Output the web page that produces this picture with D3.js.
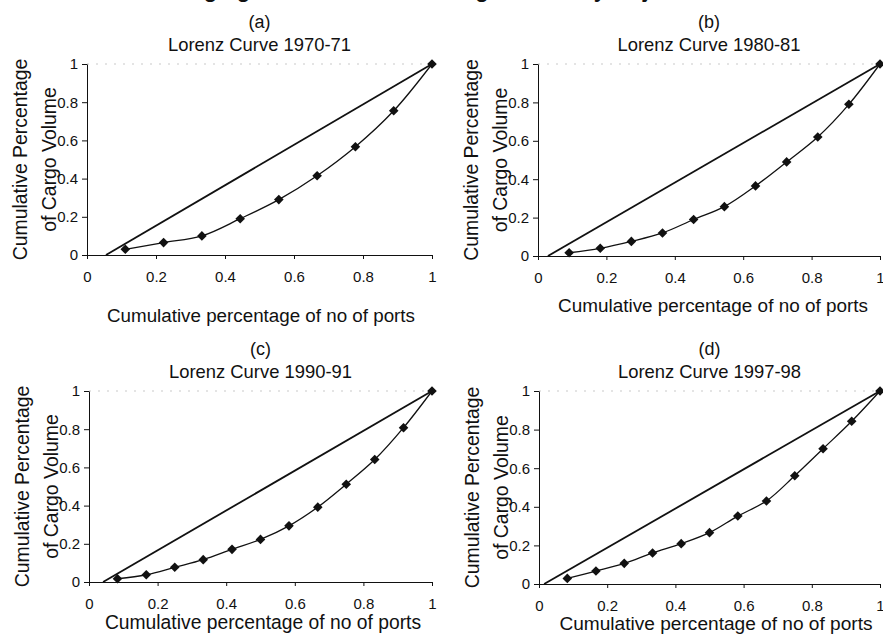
<!DOCTYPE html>
<html>
<head>
<meta charset="utf-8">
<script src="https://cdn.jsdelivr.net/npm/d3@7"></script>
<style>
  body { margin: 0; background: #fff; }
  svg { display: block; font-family: "Liberation Sans", Arial, Helvetica, sans-serif; }
  .axis path, .axis line { stroke: #111; stroke-width: 1; }
  .axis text { fill: #111; font-size: 15px; }
</style>
</head>
<body>
<div id="chart"></div>
<script>
// ---------------------------------------------------------------------------
// Data
// ---------------------------------------------------------------------------

const years = ["1970-71", "1980-81", "1990-91", "1997-98"];
const panelLetters = ["(a)", "(b)", "(c)", "(d)"];

const ports7071 = [0.111, 0.222, 0.333, 0.444, 0.556, 0.667, 0.778, 0.889, 1];
const cargo7071 = [0.03, 0.065, 0.10, 0.19, 0.29, 0.415, 0.567, 0.755, 1];

const ports8081 = [0.091, 0.182, 0.273, 0.364, 0.455, 0.545, 0.636, 0.727, 0.818, 0.909, 1];
const cargo8081 = [0.017, 0.04, 0.076, 0.12, 0.19, 0.257, 0.365, 0.49, 0.62, 0.79, 1];

const ports9091 = [0.083, 0.167, 0.25, 0.333, 0.417, 0.5, 0.583, 0.667, 0.75, 0.833, 0.917, 1];
const cargo9091 = [0.017, 0.038, 0.077, 0.117, 0.171, 0.223, 0.294, 0.392, 0.512, 0.641, 0.808, 1];

const ports9798 = [0.083, 0.167, 0.25, 0.333, 0.417, 0.5, 0.583, 0.667, 0.75, 0.833, 0.917, 1];
const cargo9798 = [0.029, 0.067, 0.107, 0.161, 0.209, 0.266, 0.352, 0.43, 0.561, 0.701, 0.843, 1];

// where the line of equality meets the x axis in each panel
const equalityStart = [0.055, 0.029, 0.041, 0.015];

const tickValues = [0, 0.2, 0.4, 0.6, 0.8, 1];
const tickLabels = ["0", "0.2", "0.4", "0.6", "0.8", "1"];

const xTitle = "Cumulative percentage of no of ports";
const yTitle = ["Cumulative Percentage", "of Cargo Volume"];

const portSeries = [ports7071, ports8081, ports9091, ports9798];
const cargoSeries = [cargo7071, cargo8081, cargo9091, cargo9798];

// ---------------------------------------------------------------------------
// Layout of the four plots (pixel boxes of each plot area)
// ---------------------------------------------------------------------------

const layout = [
  {x0: 87,  x1: 432, y0: 64,  y1: 255, xTitleX: 261, xTitleY: 315, xTitleSize: 18.8},
  {x0: 538, x1: 880, y0: 64,  y1: 256, xTitleX: 713, xTitleY: 305, xTitleSize: 18.9},
  {x0: 89,  x1: 432, y0: 391, y1: 582, xTitleX: 263, xTitleY: 622, xTitleSize: 19.3},
  {x0: 539, x1: 880, y0: 391, y1: 584, xTitleX: 716, xTitleY: 623, xTitleSize: 19.1}
];

const width = 883, height = 637;

const svg = d3.select("#chart")
  .append("svg")
  .attr("width", width)
  .attr("height", height);

svg.append("rect")
  .attr("width", width)
  .attr("height", height)
  .attr("fill", "#fff");

// figure title, cut off by the top edge of the page
svg.append("text")
  .attr("x", 441)
  .attr("y", -3)
  .attr("text-anchor", "middle")
  .attr("font-size", 22)
  .attr("font-weight", "bold")
  .attr("fill", "#111")
  .text("Changing Concentration of Cargo Traffic by Major Ports");

const diamond = d3.symbol().type(d3.symbolSquare).size(46);

years.forEach(function(year, i) {
  const box = layout[i];
  const cx = (box.x0 + box.x1) / 2;

  const xScale = d3.scaleLinear().domain([0, 1]).range([box.x0, box.x1]);
  const yScale = d3.scaleLinear().domain([0, 1]).range([box.y1, box.y0]);

  const g = svg.append("g");

  // faint dotted frame line along the top of the plot area
  g.append("line")
    .attr("x1", xScale(0)).attr("x2", xScale(1))
    .attr("y1", yScale(1)).attr("y2", yScale(1))
    .attr("stroke", "#bbb")
    .attr("stroke-width", 0.8)
    .attr("stroke-dasharray", "2,7");

  // axes
  g.append("g")
    .attr("class", "axis")
    .attr("transform", "translate(0," + yScale(0) + ")")
    .call(d3.axisBottom(xScale)
      .tickValues(tickValues)
      .tickFormat(function(d, k) { return tickLabels[k]; })
      .tickSizeInner(4)
      .tickSizeOuter(0)
      .tickPadding(12));

  g.append("g")
    .attr("class", "axis")
    .attr("transform", "translate(" + xScale(0) + ",0)")
    .call(d3.axisLeft(yScale)
      .tickValues(tickValues)
      .tickFormat(function(d, k) { return tickLabels[k]; })
      .tickSizeInner(5)
      .tickSizeOuter(0)
      .tickPadding(4));

  // line of equality
  g.append("line")
    .attr("x1", xScale(equalityStart[i])).attr("y1", yScale(0))
    .attr("x2", xScale(1)).attr("y2", yScale(1))
    .attr("stroke", "#111")
    .attr("stroke-width", 1.8);

  // Lorenz curve
  const points = portSeries[i].map(function(p, k) { return [p, cargoSeries[i][k]]; });

  const line = d3.line()
    .x(function(d) { return xScale(d[0]); })
    .y(function(d) { return yScale(d[1]); })
    .curve(d3.curveCatmullRom.alpha(0.5));

  g.append("path")
    .datum(points)
    .attr("fill", "none")
    .attr("stroke", "#111")
    .attr("stroke-width", 1.3)
    .attr("d", line);

  g.selectAll(".marker")
    .data(points)
    .enter()
    .append("path")
    .attr("class", "marker")
    .attr("d", diamond)
    .attr("fill", "#111")
    .attr("transform", function(d) {
      return "translate(" + xScale(d[0]) + "," + yScale(d[1]) + ") rotate(45)";
    });

  // titles
  g.append("text")
    .attr("x", cx)
    .attr("y", box.y0 - 42)
    .attr("dy", "0.35em")
    .attr("text-anchor", "middle")
    .attr("font-size", 18)
    .attr("fill", "#111")
    .text(panelLetters[i]);

  g.append("text")
    .attr("x", cx)
    .attr("y", box.y0 - 19)
    .attr("dy", "0.35em")
    .attr("text-anchor", "middle")
    .attr("font-size", 18.4)
    .attr("fill", "#111")
    .text("Lorenz Curve " + year);

  g.append("text")
    .attr("x", box.xTitleX)
    .attr("y", box.xTitleY)
    .attr("dy", "0.35em")
    .attr("text-anchor", "middle")
    .attr("font-size", box.xTitleSize)
    .attr("fill", "#111")
    .text(xTitle);

  const cy = (box.y0 + box.y1) / 2;
  yTitle.forEach(function(t, k) {
    const tx = box.x0 - 67 + k * 29;
    g.append("text")
      .attr("transform", "translate(" + tx + "," + cy + ") rotate(-90)")
      .attr("dy", "0.35em")
      .attr("text-anchor", "middle")
      .attr("font-size", 19.4)
      .attr("fill", "#111")
      .text(t);
  });
});
</script>
</body>
</html>
